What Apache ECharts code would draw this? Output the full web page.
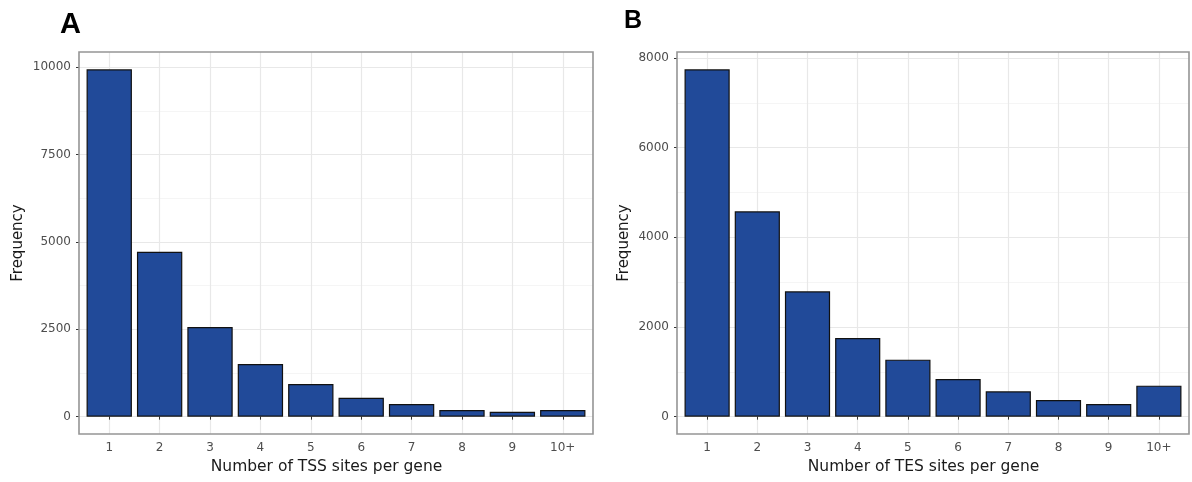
<!DOCTYPE html>
<html>
<head>
<meta charset="utf-8">
<script src="https://cdn.jsdelivr.net/npm/echarts@6/dist/echarts.min.js"></script>
<style>
html,body{margin:0;padding:0;background:#fff;}
#chart{width:1192px;height:482px;}
</style>
</head>
<body>
<div id="chart"></div>
<script>
// ---- data ----
const categories = ['1', '2', '3', '4', '5', '6', '7', '8', '9', '10+'];
const categoryPos = [1, 2, 3, 4, 5, 6, 7, 8, 9, 10];
const tssCounts = [9942, 4721, 2565, 1506, 933, 541, 361, 189, 140, 189];
const tesCounts = [7745, 4579, 2795, 1755, 1271, 840, 564, 372, 283, 691];
const yTicksA = [0, 2500, 5000, 7500, 10000];
const yMinorA = [1250, 3750, 6250, 8750];
const yTicksB = [0, 2000, 4000, 6000, 8000];
const yMinorB = [1000, 3000, 5000, 7000];
const panelLabels = ['A', 'B'];
const xTitles = ['Number of TSS sites per gene', 'Number of TES sites per gene'];
const yTitle = 'Frequency';

// ---- styles ----
const FONT = 'DejaVu Sans';
const BAR = '#214A99';
const FRAME = '#959595';
const MAJOR = '#e8e8e8';
const MINOR = '#f3f3f3';
const TICKTXT = '#4d4d4d';

const chart = echarts.init(document.getElementById('chart'), null, {renderer: 'canvas'});

function xAxisFor(gridIndex, title) {
  return {
    type: 'value', gridIndex: gridIndex, min: 0.4, max: 10.6,
    axisLine: {show: false},
    axisTick: {show: true, length: 3, customValues: categoryPos, lineStyle: {color: '#333', width: 1}},
    axisLabel: {show: true, customValues: categoryPos, margin: 8, color: TICKTXT, fontFamily: FONT, fontSize: 12,
      formatter: v => categories[Math.round(v) - 1]},
    splitLine: {show: true, lineStyle: {color: MAJOR, width: 1.2}},
    name: title, nameLocation: 'middle', nameGap: 25,
    nameTextStyle: {color: '#1a1a1a', fontFamily: FONT, fontSize: 15.5, padding: [0, 19, 0, 0]}
  };
}
function yAxisFor(gridIndex, ticks, dataMax, gap) {
  return {
    type: 'value', gridIndex: gridIndex, min: -0.05 * dataMax, max: 1.05 * dataMax,
    axisLine: {show: false},
    axisTick: {show: true, length: 3, customValues: ticks, lineStyle: {color: '#333', width: 1}},
    axisLabel: {show: true, customValues: ticks, margin: 8, color: TICKTXT, fontFamily: FONT, fontSize: 12,
      formatter: v => String(Math.round(v))},
    splitLine: {show: true, lineStyle: {color: MAJOR, width: 1.2}},
    name: yTitle, nameLocation: 'middle', nameGap: gap, nameRotate: 90,
    nameTextStyle: {color: '#1a1a1a', fontFamily: FONT, fontSize: 15}
  };
}
function yMinorFor(gridIndex, minors, dataMax) {
  return {
    type: 'value', gridIndex: gridIndex, min: -0.05 * dataMax, max: 1.05 * dataMax, position: 'left',
    axisLine: {show: false},
    axisTick: {show: false, customValues: minors},
    axisLabel: {show: false, customValues: minors},
    splitLine: {show: true, lineStyle: {color: MINOR, width: 0.8}}
  };
}
function barSeries(xi, yi, values) {
  return {
    type: 'bar', xAxisIndex: xi, yAxisIndex: yi, barWidth: '90%',
    data: values.map((v, i) => [categoryPos[i], v]),
    itemStyle: {color: BAR, borderColor: '#111', borderWidth: 1.2},
    silent: true, animation: false
  };
}

const maxA = Math.max(...tssCounts);
const maxB = Math.max(...tesCounts);

chart.setOption({
  animation: false,
  backgroundColor: '#fff',
  grid: [
    {left: 79, top: 52, width: 514, height: 382, show: true, borderColor: FRAME, borderWidth: 1.6, backgroundColor: 'transparent', z: 3},
    {left: 677, top: 52, width: 512, height: 382, show: true, borderColor: FRAME, borderWidth: 1.6, backgroundColor: 'transparent', z: 3}
  ],
  title: [
    {text: panelLabels[0], left: 55, top: 5, textStyle: {fontFamily: 'Liberation Sans', fontWeight: 'bold', fontSize: 29, color: '#000'}},
    {text: panelLabels[1], left: 619, top: 4, textStyle: {fontFamily: 'Liberation Sans', fontWeight: 'bold', fontSize: 25, color: '#000'}}
  ],
  xAxis: [xAxisFor(0, xTitles[0]), xAxisFor(1, xTitles[1])],
  yAxis: [
    yAxisFor(0, yTicksA, maxA, 53),
    yMinorFor(0, yMinorA, maxA),
    yAxisFor(1, yTicksB, maxB, 45),
    yMinorFor(1, yMinorB, maxB)
  ],
  series: [barSeries(0, 0, tssCounts), barSeries(1, 2, tesCounts)]
});
</script>
</body>
</html>
